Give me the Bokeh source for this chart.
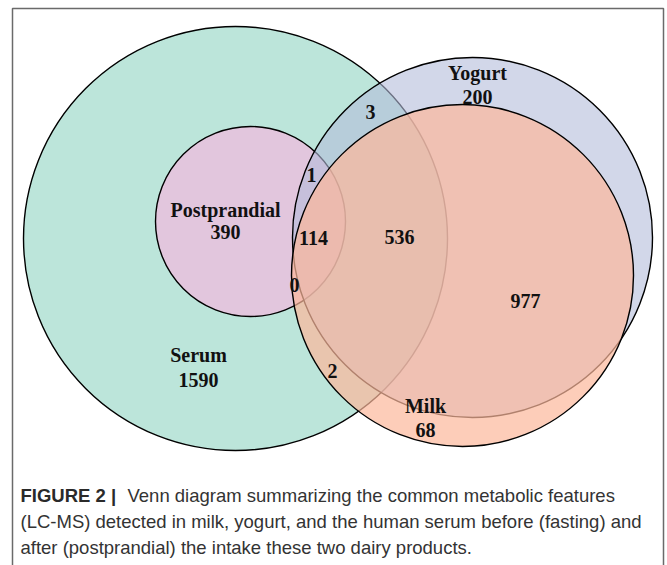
from bokeh.plotting import figure
from bokeh.models import Range1d, ColumnDataSource
from bokeh.core.properties import value
from bokeh.embed import file_html
from bokeh.resources import INLINE

# ---- data ----
set_names = ["Serum", "Postprandial", "Yogurt", "Milk"]
set_only_counts = [1590, 390, 200, 68]
overlap_counts = [3, 1, 114, 536, 0, 977, 2]
caption_bold = "FIGURE 2 |"
caption_lines = [
    "Venn diagram summarizing the common metabolic features",
    "(LC-MS) detected in milk, yogurt, and the human serum before (fasting) and",
    "after (postprandial) the intake these two dairy products.",
]

# ---- layout (pixel-like coordinates) ----
circle_x = [235, 250, 472, 462]
circle_y = [238, 221, 237, 275]
circle_r = [212, 95, 180, 171]
circle_fill = ["#BCE5DA", "#E2C6DD", "#B4BDDA", "#FCB89B"]
circle_alpha = [1.0, 1.0, 0.6, 0.7]

name_x = [198, 225, 477, 425]
name_y = [354, 209, 72, 405]
count_dy = [25, 22, 24, 24]
overlap_x = [370, 311, 313, 399, 294, 525, 332]
overlap_y = [111, 174, 237, 236, 284, 300, 370]

W, H = 667, 565
p = figure(width=W, height=H, x_range=Range1d(0, W), y_range=Range1d(H, 0),
           output_backend="svg", toolbar_location=None, min_border=0)
p.axis.visible = False
p.grid.visible = False
p.outline_line_color = None
p.background_fill_color = "white"
p.border_fill_color = "white"

# frame
p.line(x=[12, 12, 663, 663], y=[570, 8, 8, 570], line_color="#6a6a6a", line_width=1.5)

for i in range(len(set_names)):
    p.circle(x=[circle_x[i]], y=[circle_y[i]], radius=circle_r[i],
             fill_color=circle_fill[i], fill_alpha=circle_alpha[i],
             line_color="black", line_width=1.4)

serif = value("Liberation Serif")
lab_src = ColumnDataSource(dict(
    x=name_x + name_x + overlap_x,
    y=name_y + [name_y[i] + count_dy[i] for i in range(4)] + overlap_y,
    t=set_names + [str(c) for c in set_only_counts] + [str(c) for c in overlap_counts],
))
p.text(x="x", y="y", text="t", source=lab_src, text_font=serif, text_font_style="bold",
       text_font_size="20px", text_align="center", text_baseline="middle",
       text_color="#111111")

sans = value("Liberation Sans")
p.text(x=[20], y=[495], text=[caption_bold], text_font=sans, text_font_style="bold",
       text_font_size="18.5px", text_align="left", text_baseline="middle", text_color="#2a2a2a")
p.text(x=[127, 20, 20], y=[495, 521, 547], text=caption_lines, text_font=sans,
       text_font_size="18.5px", text_align="left", text_baseline="middle", text_color="#333333")

open("out.html", "w").write(file_html(p, INLINE))
